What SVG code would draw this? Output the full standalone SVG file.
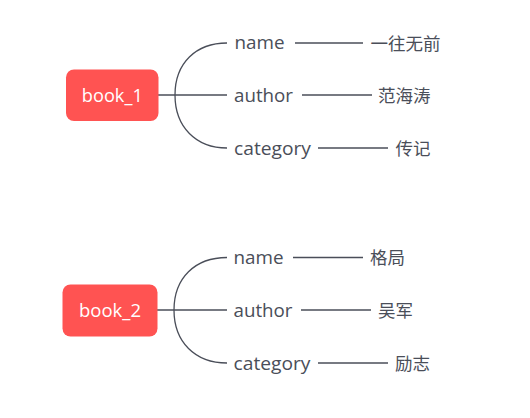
<svg xmlns="http://www.w3.org/2000/svg" width="530" height="418" viewBox="0 0 530 418">
<style>
.root rect{fill:#ff5352}
.root text{fill:#ffffff;font-family:"Open Sans","Noto Sans",sans-serif;font-size:18px;text-anchor:middle}
.lbl{fill:#4a4e59;font-family:"Open Sans","Noto Sans",sans-serif;font-size:18px}
.val{fill:#4a4e59;font-family:"Noto Sans CJK SC",sans-serif;font-size:17.5px}
.conn path{fill:none;stroke:#4a4e59;stroke-width:1.3}
</style>
<rect width="530" height="418" fill="#ffffff"/>
<g class="conn" id="connectors">
<path d="M158,95 H227"/>
<path d="M175,95 C175,63 196,43 227,43"/>
<path d="M175,95 C175,127 196,148 227,148"/>
<path d="M295,43 H363"/>
<path d="M302,95 H372"/>
<path d="M318,148 H388"/>
<path d="M157,310 H227"/>
<path d="M174,310 C174,278 195,257.5 227,257.5"/>
<path d="M174,310 C174,342 195,363 227,363"/>
<path d="M293,257.5 H363"/>
<path d="M301,310 H371"/>
<path d="M318,363 H388"/>
</g>
<g id="book_1" class="root"><rect x="66" y="69.5" width="92.5" height="51.5" rx="8"/><text x="112.3" y="101.5" textLength="61" lengthAdjust="spacingAndGlyphs">book_1</text></g>
<g id="b1_name"><text class="lbl" x="234.5" y="49" textLength="50" lengthAdjust="spacingAndGlyphs">name</text></g>
<g id="b1_author"><text class="lbl" x="234" y="101.5" textLength="59" lengthAdjust="spacingAndGlyphs">author</text></g>
<g id="b1_category"><text class="lbl" x="234" y="154.5" textLength="77" lengthAdjust="spacingAndGlyphs">category</text></g>
<g id="b1_name_val"><text class="val" x="370.5" y="49.5">一往无前</text></g>
<g id="b1_author_val"><text class="val" x="378" y="101.5">范海涛</text></g>
<g id="b1_category_val"><text class="val" x="395.5" y="154.5">传记</text></g>
<g id="book_2" class="root"><rect x="62.5" y="284.5" width="95" height="52" rx="8"/><text x="110" y="316.5" textLength="62" lengthAdjust="spacingAndGlyphs">book_2</text></g>
<g id="b2_name"><text class="lbl" x="233.5" y="263.5" textLength="50" lengthAdjust="spacingAndGlyphs">name</text></g>
<g id="b2_author"><text class="lbl" x="233.5" y="316.5" textLength="59" lengthAdjust="spacingAndGlyphs">author</text></g>
<g id="b2_category"><text class="lbl" x="233.5" y="369.5" textLength="77" lengthAdjust="spacingAndGlyphs">category</text></g>
<g id="b2_name_val"><text class="val" x="370" y="264">格局</text></g>
<g id="b2_author_val"><text class="val" x="378" y="316.5">吴军</text></g>
<g id="b2_category_val"><text class="val" x="395" y="369.5">励志</text></g>
</svg>
